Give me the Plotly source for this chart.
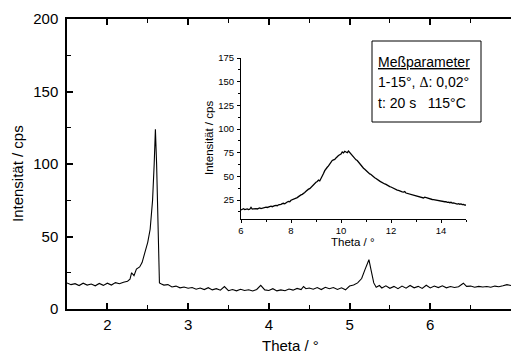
import plotly.graph_objects as go

# Main scan: 2-theta in degrees vs. intensity in cps
theta_main = [
    1.50, 1.55, 1.60, 1.65, 1.70, 1.75, 1.80, 1.85, 1.90, 1.95,
    2.00, 2.05, 2.10, 2.15, 2.20, 2.25, 2.28, 2.30, 2.33, 2.36,
    2.40, 2.43, 2.46, 2.50, 2.53, 2.56, 2.58, 2.595, 2.61, 2.63,
    2.645, 2.67, 2.70, 2.75, 2.80, 2.85, 2.90, 2.95, 3.00, 3.05,
    3.10, 3.15, 3.20, 3.25, 3.30, 3.35, 3.40, 3.45, 3.50, 3.55,
    3.60, 3.65, 3.70, 3.75, 3.80, 3.85, 3.90, 3.95, 4.00, 4.05,
    4.10, 4.15, 4.20, 4.25, 4.30, 4.35, 4.40, 4.43, 4.46, 4.50,
    4.55, 4.60, 4.65, 4.70, 4.75, 4.80, 4.85, 4.90, 4.95, 5.00,
    5.05, 5.10, 5.15, 5.19, 5.24, 5.27, 5.30, 5.33, 5.37, 5.40,
    5.45, 5.50, 5.55, 5.60, 5.65, 5.70, 5.75, 5.80, 5.85, 5.90,
    5.95, 6.00, 6.05, 6.10, 6.15, 6.20, 6.25, 6.30, 6.35, 6.41,
    6.45, 6.50, 6.55, 6.60, 6.65, 6.70, 6.75, 6.80, 6.85, 6.90,
    6.95, 7.00,
]
int_main = [
    18.0, 16.8, 17.5, 16.2, 17.8, 16.5, 17.2, 16.0, 17.6, 16.3,
    17.8, 16.5, 18.2, 17.4, 18.5, 19.2, 20.5, 25.0, 23.0, 27.5,
    29.0, 32.0, 38.0, 46.0, 55.0, 75.0, 100.0, 124.0, 100.0, 55.0,
    18.0, 17.2, 16.5, 16.8, 15.2, 15.8, 14.6, 15.2, 14.3, 14.8,
    13.6, 14.5, 13.4, 14.7, 13.2, 14.0, 13.0, 15.5, 12.6, 13.4,
    12.5, 13.6, 12.8, 13.3, 12.4, 13.5, 16.3, 13.2, 12.8, 14.0,
    12.5, 13.2, 12.6, 13.8, 13.0, 14.2, 13.4, 15.5, 14.0, 14.5,
    13.6, 14.8, 13.4, 15.0, 14.0, 14.8, 13.5, 14.6, 13.2, 15.8,
    16.5, 18.0, 21.0, 27.0, 34.0, 26.0, 18.0, 15.0, 16.2, 14.5,
    16.0, 14.3, 15.6, 14.0, 15.8, 14.4, 16.2, 14.6, 15.6, 14.2,
    16.4, 14.5, 15.8, 14.8, 16.0, 14.6, 15.5, 14.8, 15.4, 17.8,
    15.6, 15.8, 15.0, 15.6, 15.2, 15.5, 15.0, 15.8, 15.4, 16.0,
    16.8, 16.2,
]

# Inset scan over the wide range 6-15 degrees, 0.05 degree steps
theta_inset = [round(6 + 0.05 * i, 2) for i in range(181)]
int_inset = [
    14.5, 15.4, 15.8, 14.9, 15.2, 15.6, 15.0, 15.3, 17.2, 15.4,
    15.6, 16.1, 15.9, 15.6, 16.2, 16.6, 16.0, 16.5, 16.8, 17.4,
    17.6, 17.2, 17.9, 18.4, 18.6, 18.0, 18.2, 19.1, 19.4, 19.0,
    20.0, 19.8, 20.4, 21.2, 21.6, 21.1, 22.3, 22.9, 23.6, 23.2,
    24.8, 25.2, 26.0, 26.8, 27.2, 27.6, 28.6, 29.8, 30.4, 31.0,
    32.5, 33.0, 34.2, 35.6, 36.5, 37.0, 38.4, 40.2, 41.0, 42.0,
    43.8, 44.6, 46.0, 45.2, 48.5, 51.0, 53.0, 56.0, 58.5, 59.6,
    61.0, 63.0, 64.5, 66.8, 67.5, 68.0, 69.5, 71.2, 72.0, 72.8,
    73.5, 75.8, 74.8, 76.5, 76.0, 75.0, 76.8, 75.2, 73.5, 72.8,
    70.5, 69.8, 67.5, 66.8, 65.0, 63.2, 61.8, 60.0, 58.6, 57.5,
    56.0, 55.2, 54.0, 52.6, 52.0, 50.6, 49.8, 48.6, 47.8, 46.6,
    45.8, 45.0, 44.2, 43.2, 42.8, 42.0, 41.5, 40.4, 40.2, 39.2,
    38.8, 38.0, 37.4, 36.6, 36.2, 35.6, 35.2, 34.4, 34.4, 33.6,
    33.4, 34.0, 32.4, 32.0, 31.5, 31.2, 30.8, 30.0, 29.6, 29.4,
    29.0, 28.6, 28.4, 28.0, 27.8, 27.2, 27.2, 28.0, 27.6, 26.6,
    26.4, 26.2, 26.0, 25.6, 25.5, 25.2, 25.0, 24.6, 24.6, 24.2,
    24.5, 23.8, 23.8, 23.2, 23.4, 22.6, 22.8, 22.2, 22.6, 21.8,
    22.0, 21.4, 21.6, 20.8, 21.2, 20.6, 21.0, 20.2, 20.4, 19.6,
    19.8,
]

main_ticks = [2, 3, 4, 5, 6, 7]
main_yticks = [0, 50, 100, 150, 200]
inset_ticks = [6, 8, 10, 12, 14]
inset_yticks = [25, 50, 75, 100, 125, 150, 175]

FONT = "Liberation Sans, Arial, sans-serif"

W, H = 511, 354
L, R, T, B = 67, 0, 19, 45
pw, ph = W - L - R, H - T - B


def px(x):
    return (x - L) / pw


def py(y):
    return (H - B - y) / ph


fig = go.Figure()
fig.add_trace(go.Scatter(x=theta_main, y=int_main, mode="lines",
                         line=dict(color="black", width=1.1),
                         xaxis="x", yaxis="y", showlegend=False))
fig.add_trace(go.Scatter(x=theta_inset, y=int_inset, mode="lines",
                         line=dict(color="black", width=1.3),
                         xaxis="x2", yaxis="y2", showlegend=False))

axis_common = dict(showgrid=False, zeroline=False, linecolor="black",
                   tickcolor="black", showline=True)

fig.update_layout(
    width=W, height=H,
    margin=dict(l=L, r=R, t=T, b=B),
    paper_bgcolor="white", plot_bgcolor="white",
    font=dict(family=FONT, color="black"),
    xaxis=dict(**axis_common, range=[1.5, 7.0], tickvals=main_ticks,
               ticks="inside", ticklen=6, linewidth=1.5, tickwidth=1.5,
               mirror="ticks",
               minor=dict(tickvals=[1.5, 2.5, 3.5, 4.5, 5.5, 6.5], ticks="inside",
                          ticklen=4, tickcolor="black", tickwidth=1.2),
               tickfont=dict(size=15), ticklabelstandoff=1),
    yaxis=dict(**axis_common, range=[0, 200], tickvals=main_yticks,
               ticks="inside", ticklen=6, linewidth=1.5, tickwidth=1.5,
               minor=dict(tickvals=[25, 75, 125, 175], ticks="inside",
                          ticklen=4, tickcolor="black", tickwidth=1.2),
               tickfont=dict(size=15), ticklabelstandoff=4),
    xaxis2=dict(**axis_common, anchor="y2", domain=[px(241), px(466)],
                range=[6, 15], tickvals=inset_ticks, ticks="outside",
                ticklen=3, linewidth=1, tickwidth=1,
                minor=dict(tickvals=[7, 9, 11, 13, 15], ticks="outside",
                           ticklen=2, tickcolor="black"),
                tickfont=dict(size=9.5), ticklabelstandoff=0),
    yaxis2=dict(**axis_common, anchor="x2", domain=[py(219), py(58)],
                range=[5, 175], tickvals=inset_yticks, ticks="outside",
                ticklen=3, linewidth=1, tickwidth=1,
                minor=dict(tickvals=[12.5, 37.5, 62.5, 87.5, 112.5, 137.5, 162.5],
                           ticks="outside", ticklen=2, tickcolor="black"),
                tickfont=dict(size=9.5), ticklabelstandoff=1),
)

# Axis titles
fig.add_annotation(text="Theta / °", x=px(290), y=py(345), xref="paper", yref="paper",
                   showarrow=False, font=dict(size=15), xanchor="center", yanchor="middle")
fig.add_annotation(text="Intensität / cps", x=px(17), y=py(174), xref="paper", yref="paper",
                   showarrow=False, font=dict(size=15), textangle=-90,
                   xanchor="center", yanchor="middle")
fig.add_annotation(text="Theta / °", x=px(353), y=py(242), xref="paper", yref="paper",
                   showarrow=False, font=dict(size=11.5), xanchor="center", yanchor="middle")
fig.add_annotation(text="Intensität / cps", x=px(209), y=py(138), xref="paper", yref="paper",
                   showarrow=False, font=dict(size=11.5), textangle=-90,
                   xanchor="center", yanchor="middle")

# Measurement-parameter box
fig.add_shape(type="rect", xref="paper", yref="paper",
              x0=px(372), x1=px(481), y0=py(122), y1=py(41),
              line=dict(color="black", width=1), fillcolor="white")
box_lines = [
    ("<u>Meßparameter</u>", 62),
    ("1-15°, <span style=\"font-family:'Liberation Serif',serif\">Δ</span>: 0,02°", 82),
    ("t: 20 s   115°C", 103),
]
for txt, yy in box_lines:
    fig.add_annotation(text=txt, x=px(376), y=py(yy), xref="paper", yref="paper",
                       showarrow=False, font=dict(size=14), xanchor="left",
                       yanchor="middle")

fig.write_html("out.html")
